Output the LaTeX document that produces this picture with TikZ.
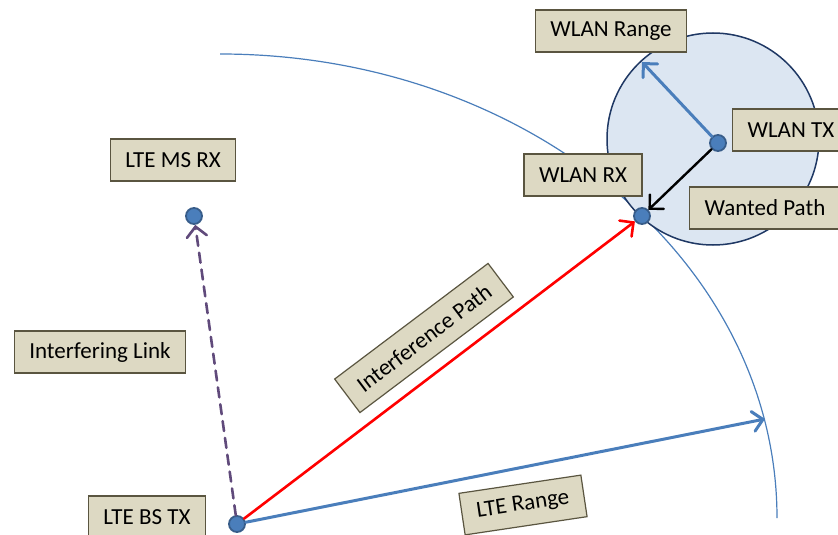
\documentclass[tikz,border=0pt]{standalone}
\usepackage{fontspec}
\setmainfont{Carlito}
\usepackage{tikz}
\usetikzlibrary{arrows.meta, positioning, calc}
\definecolor{boxfill}{HTML}{DDD9C3}
\definecolor{boxline}{HTML}{5A5540}
\definecolor{ltblue}{HTML}{4A7EBB}
\definecolor{dotline}{HTML}{385D8A}
\definecolor{wlanfill}{HTML}{DCE6F2}
\definecolor{wlanline}{HTML}{1F3864}
\definecolor{linkpurple}{HTML}{604A7B}
\tikzstyle{lbl} = [rectangle, draw=boxline, fill=boxfill, line width=1.2pt,
  inner xsep=15pt, minimum height=42pt, font=\fontsize{23}{27}\selectfont]
\tikzstyle{dot} = [circle, draw=dotline, fill=ltblue, line width=1.8pt,
  minimum size=16pt, inner sep=0pt]
\tikzstyle{opentip} = [-{Straight Barb[length=10pt, width=20pt, line cap=round]}, line cap=round]
\tikzstyle{rangearrow} = [draw=ltblue, line width=3pt, opentip]

\begin{document}
\begin{tikzpicture}[x=1pt, y=-1pt]
    \useasboundingbox (0,0) rectangle (838,535);
    %%% Ranges:
    \draw[ltblue, line width=1.2pt] (220,54) arc[start angle=-90, end angle=0,
      x radius=557, y radius=464];
    \node[circle, draw=wlanline, fill=wlanfill, line width=1.5pt,
      minimum size=212pt, inner sep=0pt] (cell) at (713,139) {};
    %%% Stations:
    \node[dot] (bs) at (237,524) {};
    \node[dot] (ms) at (194,216) {};
    \node[dot] (rx) at (642,216) {};
    \node[dot] (tx) at (718,143) {};
    \coordinate (lteedge) at (765,419);
    \coordinate (wlanedge) at (642,62);
    %%% Links:
    \path [rangearrow] (bs) -- (lteedge);
    \path [rangearrow] (tx) -- (wlanedge);
    \path [draw=red, line width=2.6pt, opentip] (bs) -- (rx);
    \path [draw=black, line width=2.4pt, opentip] (tx) -- (rx);
    \path [draw=linkpurple, line width=2.6pt, dash pattern=on 10pt off 7pt, opentip] (bs) -- (ms);
    %%% Labels:
    \node[lbl] (wlanrange) at (611,31) {WLAN Range};
    \node[lbl, anchor=west] (wlantx) at (732,130) {WLAN TX};
    \node[lbl] (wlanrx) at (583,175) {WLAN RX};
    \node[lbl, anchor=west] (wanted) at (689,208) {Wanted Path};
    \node[lbl] (msrx) at (173,160) {LTE MS RX};
    \node[lbl] (interf) at (100,352) {Interfering Link};
    \node[lbl] (bstx) at (147,517) {LTE BS TX};
    \node[lbl, rotate=37] (ipath) at (424,338) {Interference Path};
    \node[lbl, rotate=8.5] (lterange) at (523,505) {LTE Range};
\end{tikzpicture}
\end{document}
